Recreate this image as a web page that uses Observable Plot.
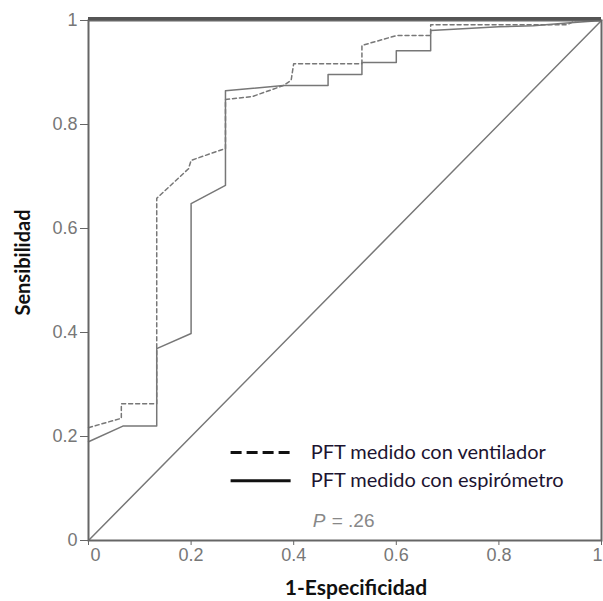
<!DOCTYPE html>
<html><head><meta charset="utf-8">
<script src="https://cdn.jsdelivr.net/npm/d3@7"></script>
<script src="https://cdn.jsdelivr.net/npm/@observablehq/plot@0.6"></script>
<style>body{margin:0;background:#fff}</style>
</head><body><div id="chart"></div>
<script>
// ROC curve: PFT medido con ventilador (dashed)
const ventFPR = [0, 0.064, 0.064, 0.133, 0.133, 0.195, 0.2, 0.267, 0.267, 0.32, 0.38, 0.395, 0.4, 0.533, 0.533, 0.6, 0.667, 0.667, 0.933, 0.95, 1];
const ventTPR = [0.217, 0.235, 0.263, 0.263, 0.658, 0.715, 0.731, 0.754, 0.848, 0.854, 0.875, 0.885, 0.917, 0.917, 0.952, 0.971, 0.971, 0.992, 0.992, 1, 1];
// ROC curve: PFT medido con espirómetro (solid)
const espFPR = [0, 0.067, 0.133, 0.133, 0.2, 0.2, 0.267, 0.267, 0.38, 0.467, 0.467, 0.533, 0.533, 0.6, 0.6, 0.667, 0.667, 0.8, 0.867, 0.933, 1];
const espTPR = [0.19, 0.22, 0.22, 0.369, 0.398, 0.648, 0.683, 0.865, 0.875, 0.875, 0.896, 0.896, 0.919, 0.919, 0.942, 0.942, 0.981, 0.988, 0.99, 0.995, 1];
const refLine = [0, 1];
const xTicks = [0, 0.2, 0.4, 0.6, 0.8, 1];
const yTicks = [0, 0.2, 0.4, 0.6, 0.8, 1];
const seriesNames = ["PFT medido con ventilador", "PFT medido con espirómetro"];
const pValue = "= .26";

const vent = ventFPR.map((x, i) => ({x, y: ventTPR[i]}));
const esp = espFPR.map((x, i) => ({x, y: espTPR[i]}));
const diag = refLine.map(v => ({x: v, y: v}));

const chart = Plot.plot({
  width: 603, height: 601,
  marginLeft: 88, marginRight: 2, marginTop: 20, marginBottom: 61,
  x: {domain: [0, 1]},
  y: {domain: [0, 1]},
  style: {fontFamily: "'Liberation Sans', Arial, sans-serif", background: "white"},
  marks: [
    Plot.axisY({ticks: yTicks, tickFormat: d => String(d), tickSize: 8, tickPadding: 3, fontSize: 18, fill: "#777", stroke: "#666", label: null}),
    Plot.axisX({ticks: xTicks, tickFormat: d => (d === 0 || d === 1) ? "" : String(d), tickSize: 5, tickPadding: 3, fontSize: 18, fill: "#777", stroke: "#666", label: null}),
    Plot.axisX({ticks: [0], tickFormat: d => String(d), tickSize: 0, tickPadding: 8, dx: 7, fontSize: 18, fill: "#777", label: null}),
    Plot.axisX({ticks: [1], tickFormat: d => String(d), tickSize: 0, tickPadding: 8, dx: -4, fontSize: 18, fill: "#777", label: null}),
    Plot.line(diag, {x: "x", y: "y", stroke: "#777", strokeWidth: 1.5}),
    Plot.line(esp, {x: "x", y: "y", stroke: "#777", strokeWidth: 1.5}),
    Plot.line(vent, {x: "x", y: "y", stroke: "#777", strokeWidth: 1.5, strokeDasharray: "4,3"}),
    Plot.frame({stroke: "#666", strokeWidth: 2}),
    Plot.ruleY([1], {stroke: "#555", strokeWidth: 3, dy: -2}),
    // legend
    Plot.link([0], {x1: 0.277, x2: 0.394, y1: 0.169, y2: 0.169, stroke: "#111", strokeWidth: 3, strokeDasharray: "11,5"}),
    Plot.link([0], {x1: 0.277, x2: 0.394, y1: 0.115, y2: 0.115, stroke: "#111", strokeWidth: 3}),
    Plot.text([seriesNames[0]], {x: 0.433, y: 0.169, text: d => d, textAnchor: "start", fontFamily: "Lato, sans-serif", fontSize: 20, fill: "#1c1430"}),
    Plot.text([seriesNames[1]], {x: 0.433, y: 0.115, text: d => d, textAnchor: "start", fontFamily: "Lato, sans-serif", fontSize: 20, fill: "#1c1430"}),
    Plot.text(["P"], {x: 0.437, y: 0.038, text: d => d, textAnchor: "start", fontStyle: "italic", fontSize: 19, fill: "#888"}),
    Plot.text([pValue], {x: 0.474, y: 0.038, text: d => d, textAnchor: "start", fontSize: 19, fill: "#888"}),
    // axis titles
    Plot.text(["1-Especificidad"], {frameAnchor: "bottom", text: d => d, textAnchor: "middle", dx: 11, dy: 54, fontFamily: "Lato, sans-serif", fontWeight: "bold", fontSize: 21, fill: "#111"}),
    Plot.text(["Sensibilidad"], {frameAnchor: "left", text: d => d, textAnchor: "middle", dx: -65, dy: -18, rotate: -90, fontFamily: "Lato, sans-serif", fontWeight: "bold", fontSize: 20, fill: "#111"})
  ]
});
document.getElementById("chart").appendChild(chart);
</script>
</body></html>
